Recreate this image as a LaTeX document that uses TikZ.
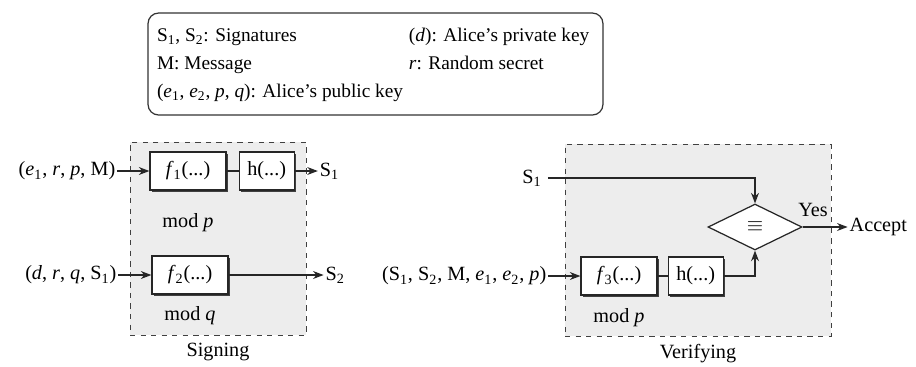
\documentclass[tikz,border=0pt]{standalone}
\usepackage{fontspec}
\setmainfont{Liberation Serif}
\usepackage{array}
\usetikzlibrary{shapes.geometric, arrows.meta, positioning, calc, shadows}

\begin{document}
\begin{tikzpicture}[
    x=0.02cm, y=-0.02cm,
    node distance=0.2cm and 0.2cm,
    font=\fontsize{11.5}{14}\selectfont,
    func/.style={rectangle, draw=black!85, fill=white, line width=0.7pt, minimum width=1.52cm, minimum height=0.76cm, inner sep=2pt, drop shadow={opacity=1, fill=black!75, shadow xshift=1.2pt, shadow yshift=-1.2pt}},
    hash/.style={func, minimum width=1.1cm},
    region/.style={rectangle, draw=black!75, dashed, fill=black!7, inner sep=0pt},
    check/.style={diamond, draw=black!85, fill=white, line width=0.7pt, minimum width=1.88cm, minimum height=0.92cm, inner sep=0pt},
    legendbox/.style={rectangle, draw=black!80, rounded corners=6pt, line width=0.7pt, minimum width=9.1cm, minimum height=2.04cm, inner sep=0pt, font=\fontsize{11}{13.5}\selectfont},
    arrow/.style={-{Stealth[length=6pt, width=4.5pt]}, line width=0.7pt, draw=black!85},
    link/.style={line width=0.7pt, draw=black!85}
]
    \useasboundingbox (0,0) rectangle (916,366);

    % legend
    \node (legend) [legendbox] at (375.5,64) {\renewcommand{\arraystretch}{1.18}%
        \begin{tabular}{@{}p{5.04cm}@{}p{3.7cm}@{}}
        S\textsubscript{1}, S\textsubscript{2}: Signatures & (\textit{d}): Alice's private key\\
        M: Message & \textit{r}: Random secret\\
        (\textit{e}\textsubscript{1}, \textit{e}\textsubscript{2}, \textit{p}, \textit{q}): Alice's public key &
        \end{tabular}};

    % signing side
    \node (signbox) [region, minimum width=3.52cm, minimum height=3.86cm] at (218,238.5) {};
    \node (signlbl) [below=1pt of signbox] {Signing};

    \node (f1) [func] at (188,171) {\textit{f}\textsubscript{1}(...)};
    \node (h1) [hash, right=0.24cm of f1] {h(...)};
    \node (in1) [left=0.64cm of f1, inner sep=1pt] {(\textit{e}\textsubscript{1}, \textit{r}, \textit{p}, M)};
    \node (out1) [right=0.46cm of h1, inner sep=1pt] {S\textsubscript{1}};
    \node (modp1) [below=0.34cm of f1] {mod \textit{p}};

    \node (f2) [func] at (190,275) {\textit{f}\textsubscript{2}(...)};
    \node (in2) [left=0.66cm of f2, inner sep=1pt] {(\textit{d}, \textit{r}, \textit{q}, S\textsubscript{1})};
    \node (out2) [right=1.9cm of f2, inner sep=1pt] {S\textsubscript{2}};
    \node (modq) [below=0.12cm of f2] {mod \textit{q}};

    % verifying side
    \node (verbox) [region, minimum width=5.32cm, minimum height=3.84cm] at (698,240) {};
    \node (verlbl) [below=1pt of verbox] {Verifying};

    \node (cmp) [check] at (755,227) {$\equiv$};
    \node (s1in) at (532,178) {S\textsubscript{1}};
    \node (yes) at (813,210) {Yes};
    \node (accept) [right=0.9cm of cmp, inner sep=1pt] {Accept};

    \node (f3) [func] at (619,276) {\textit{f}\textsubscript{3}(...)};
    \node (h3) [hash, right=0.2cm of f3] {h(...)};
    \node (in3) [left=0.64cm of f3, inner sep=1pt] {(S\textsubscript{1}, S\textsubscript{2}, M, \textit{e}\textsubscript{1}, \textit{e}\textsubscript{2}, \textit{p})};
    \node (modp3) [below=0.14cm of f3] {mod \textit{p}};

    % connectors
    \draw [arrow] (in1) -- (f1);
    \draw [link] (f1) -- (h1);
    \draw [arrow] (h1) -- (out1);
    \draw [arrow] (in2) -- (f2);
    \draw [arrow] (f2) -- (out2);

    \draw [arrow] (in3) -- (f3);
    \draw [link] (f3) -- (h3);
    \draw [arrow] (h3.east) -| (cmp.south);
    \draw [arrow] (s1in.east) -| (cmp.north);
    \draw [arrow] (cmp) -- (accept);
\end{tikzpicture}
\end{document}
